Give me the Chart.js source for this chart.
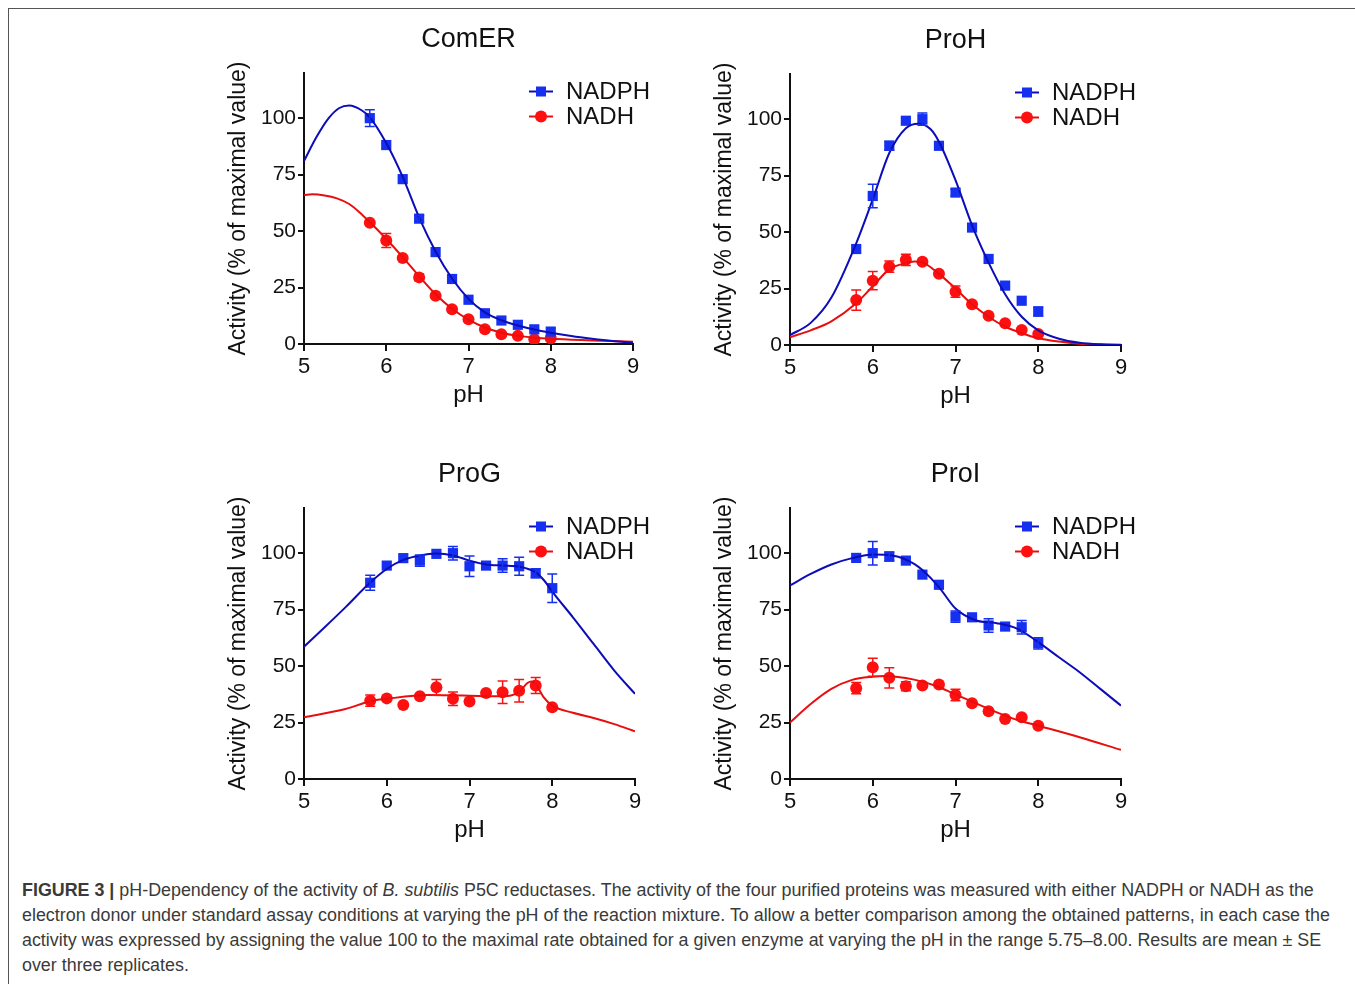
<!DOCTYPE html>
<html>
<head>
<meta charset="utf-8">
<script src="https://cdn.jsdelivr.net/npm/chart.js@4.4.1/dist/chart.umd.min.js"></script>
<style>
body { margin:0; background:#fff; width:1355px; height:984px; overflow:hidden; position:relative; font-family:"Liberation Sans", Arial, sans-serif; }
#frame { position:absolute; left:8px; top:8px; width:1360px; height:990px; border-left:1.5px solid #555; border-top:1.5px solid #555; }
canvas { position:absolute; }
#caption { position:absolute; left:22px; top:878px; font-size:17.5px; line-height:25px; color:#3a3a3a; transform-origin:0 0; }
#caption div { white-space:nowrap; }
</style>
</head>
<body>
<div id="frame"></div>
<canvas id="c1" width="459" height="401" style="left:214px;top:13px"></canvas>
<canvas id="c2" width="461" height="401" style="left:700px;top:14px"></canvas>
<canvas id="c3" width="461" height="401" style="left:214px;top:448px"></canvas>
<canvas id="c4" width="461" height="401" style="left:700px;top:448px"></canvas>
<div id="caption">
<div id="cap1"><b>FIGURE 3 |</b> pH-Dependency of the activity of <i>B. subtilis</i> P5C reductases. The activity of the four purified proteins was measured with either NADPH or NADH as the</div>
<div>electron donor under standard assay conditions at varying the pH of the reaction mixture. To allow a better comparison among the obtained patterns, in each case the</div>
<div>activity was expressed by assigning the value 100 to the maximal rate obtained for a given enzyme at varying the pH in the range 5.75–8.00. Results are mean ± SE</div>
<div>over three replicates.</div>
</div>
<script>
// pH values where activity was measured (same for all enzymes)
var phMeasured = [5.8, 6.0, 6.2, 6.4, 6.6, 6.8, 7.0, 7.2, 7.4, 7.6, 7.8, 8.0];

// ComER
var comerNadph   = [100, 88.1, 73, 55.5, 40.7, 28.8, 19.6, 13.6, 10.4, 8.5, 6.5, 5.5];
var comerNadphSE = [3.7, 0, 0, 1.5, 0, 0, 0, 0, 0, 0, 0, 0];
var comerNadh    = [53.7, 45.8, 38.1, 29.5, 21.4, 15.4, 11.0, 6.5, 4.3, 3.6, 2.1, 2.5];
var comerNadhSE  = [0, 3.1, 0, 1.5, 0, 0, 0, 0, 0, 0, 0, 0];
var comerNadphFitPh = [5.0, 5.15, 5.3, 5.43, 5.55, 5.7, 5.8, 6.0, 6.2, 6.4, 6.6, 6.8, 7.0, 7.2, 7.4, 7.6, 7.8, 8.0, 8.25, 8.5, 8.75, 9.0];
var comerNadphFit   = [81, 91.5, 100, 104.5, 105.6, 103.5, 100.4, 89, 74, 56, 41, 29, 20, 14, 10.5, 8.2, 6.4, 5, 3.5, 2.3, 1.3, 0.6];
var comerNadhFitPh  = [5.0, 5.1, 5.25, 5.4, 5.55, 5.7, 5.8, 6.0, 6.2, 6.4, 6.6, 6.8, 7.0, 7.2, 7.4, 7.6, 7.8, 8.0, 8.5, 9.0];
var comerNadhFit    = [65.9, 66.3, 65.8, 64.5, 62, 57.5, 54, 46.5, 38.5, 30, 22, 15.6, 10.8, 7.3, 5, 3.6, 2.8, 2.3, 1.6, 1.0];

// ProH
var prohNadph   = [42.5, 66, 88.2, 99.3, 100, 88.2, 67.5, 52, 38.1, 26.3, 19.6, 14.8];
var prohNadphSE = [0, 5.2, 2, 0, 2.7, 0, 1.5, 0, 0, 0, 0, 2];
var prohNadh    = [19.9, 28.5, 34.7, 37.7, 36.9, 31.5, 23.6, 18, 13, 9.6, 6.6, 4.9];
var prohNadhSE  = [4.5, 4, 2.5, 2.5, 0, 0, 2.5, 0, 0, 0, 0, 0];
var prohNadphFitPh = [5.0, 5.25, 5.5, 5.8, 6.0, 6.2, 6.4, 6.55, 6.7, 6.8, 7.0, 7.2, 7.4, 7.6, 7.8, 8.0, 8.25, 8.5, 8.75, 9.0];
var prohNadphFit   = [4.4, 9.8, 21, 45, 64.5, 85, 96, 98, 95.5, 90, 73, 53, 36.5, 22.5, 12.5, 6.5, 2.8, 1, 0.3, 0.1];
var prohNadhFitPh  = [5.0, 5.25, 5.5, 5.8, 6.0, 6.2, 6.4, 6.5, 6.6, 6.8, 7.0, 7.2, 7.4, 7.6, 7.8, 8.0, 8.25, 8.5, 8.75, 9.0];
var prohNadhFit    = [3.4, 6.5, 10.5, 18.5, 26, 33.5, 36.3, 37, 36.6, 31.5, 25, 18, 12.5, 8.1, 5.2, 3, 1.5, 0.6, 0.2, 0];

// ProG
var progNadph   = [86.9, 94.5, 97.8, 96.7, 99.7, 100, 94.2, 94.5, 94.5, 94.2, 91.1, 84.5];
var progNadphSE = [3.3, 0, 0, 2.5, 0, 3, 4.5, 0, 3, 4, 2, 6.3];
var progNadh    = [34.7, 35.7, 32.8, 36.6, 40.6, 35.5, 34.3, 38.1, 38.4, 39.1, 41.4, 31.8];
var progNadhSE  = [2.5, 0, 0, 0, 3.5, 3, 0, 0, 5, 5, 3.5, 0];
var progNadphFitPh = [5.0, 5.25, 5.5, 5.8, 6.0, 6.2, 6.4, 6.6, 6.8, 7.0, 7.2, 7.4, 7.6, 7.8, 7.9, 8.0, 8.25, 8.5, 8.75, 9.0];
var progNadphFit   = [58.6, 67.2, 76, 87, 93, 97, 99, 99.8, 99, 96.7, 95, 94.5, 94, 91.5, 88, 83, 71.6, 59.8, 48, 37.7];
var progNadhFitPh  = [5.0, 5.5, 5.8, 6.0, 6.5, 7.0, 7.3, 7.5, 7.6, 7.7, 7.75, 7.8, 7.9, 8.0, 8.25, 8.5, 8.75, 9.0];
var progNadhFit    = [27.3, 31, 34.4, 35.5, 37.2, 36.9, 36.6, 37, 38.5, 42.5, 43.2, 42, 36, 32.5, 29.3, 27, 24.3, 21.1];

// ProI
var proiNadph   = [97.9, 100, 98.5, 96.7, 90.5, 86, 71.9, 71.6, 68, 67.5, 67.2, 60.1];
var proiNadphSE = [0, 5.2, 2, 0, 0, 0, 2.5, 0, 3, 0, 3, 2.5];
var proiNadh    = [40.2, 49.5, 44.8, 41.1, 41.4, 41.8, 37.2, 33.5, 30, 26.6, 27.3, 23.6];
var proiNadhSE  = [2.5, 4, 4.5, 2, 0, 0, 2.5, 0, 0, 0, 0, 0];
var proiNadphFitPh = [5.0, 5.25, 5.5, 5.75, 6.0, 6.25, 6.5, 6.6, 6.8, 7.0, 7.25, 7.5, 7.75, 8.0, 8.25, 8.5, 8.75, 9.0];
var proiNadphFit   = [85.7, 90.8, 95, 97.8, 99.4, 98.9, 95.3, 92.5, 85, 75.5, 70.2, 69, 66.5, 60.6, 53.9, 47.3, 39.9, 32.5];
var proiNadhFitPh  = [5.0, 5.25, 5.5, 5.75, 6.0, 6.15, 6.5, 6.75, 7.0, 7.25, 7.5, 7.75, 8.0, 8.5, 9.0];
var proiNadhFit    = [25, 33.2, 39.9, 43.9, 45.3, 45.6, 44, 41.4, 37.4, 33.5, 29.5, 26.1, 23.6, 18.5, 12.9];

var BLUE_LINE = '#0c0cb8', BLUE_PT = '#1530f0';
var RED_LINE = '#e80e0e', RED_PT = '#ff1010';
var FONT = '"Liberation Sans", Arial, sans-serif';

Chart.defaults.font.family = FONT;
Chart.defaults.color = '#111';

function pairs(xs, ys) {
  return xs.map(function(x, i) { return { x: x, y: ys[i] }; });
}

// vertical SE bars with caps
var errorBars = {
  id: 'errorBars',
  afterDatasetsDraw: function(chart) {
    var ctx = chart.ctx, xs = chart.scales.x, ys = chart.scales.y;
    chart.data.datasets.forEach(function(ds) {
      if (!ds.errors) return;
      ctx.save();
      ctx.strokeStyle = ds.backgroundColor;
      ctx.lineWidth = 1.5;
      ds.data.forEach(function(p, i) {
        var e = ds.errors[i];
        if (!e) return;
        var px = xs.getPixelForValue(p.x);
        var top = ys.getPixelForValue(p.y + e), bot = ys.getPixelForValue(p.y - e);
        ctx.beginPath();
        ctx.moveTo(px, top); ctx.lineTo(px, bot);
        ctx.moveTo(px - 5, top); ctx.lineTo(px + 5, top);
        ctx.moveTo(px - 5, bot); ctx.lineTo(px + 5, bot);
        ctx.stroke();
      });
      ctx.restore();
    });
  }
};

// panel title centred over the plot area, legend inside the plot (top right)
var panelDecor = {
  id: 'panelDecor',
  afterDraw: function(chart, args, opts) {
    var ctx = chart.ctx, a = chart.chartArea;
    ctx.save();
    ctx.font = '27px ' + FONT;
    ctx.fillStyle = '#111';
    ctx.textAlign = 'center';
    ctx.textBaseline = 'middle';
    ctx.fillText(opts.title, (a.left + a.right) / 2, a.top - 33);
    ctx.restore();

    var rows = chart.data.datasets.filter(function(d) { return d.inLegend; });
    rows.forEach(function(ds, i) {
      var y = a.top + 18.5 + i * 25, x0 = a.left + 225;
      ctx.save();
      ctx.strokeStyle = ds.lineColor;
      ctx.lineWidth = 2;
      ctx.beginPath(); ctx.moveTo(x0, y); ctx.lineTo(x0 + 24, y); ctx.stroke();
      ctx.fillStyle = ds.backgroundColor;
      if (ds.pointStyle === 'rect') {
        ctx.fillRect(x0 + 7, y - 5, 10, 10);
      } else {
        ctx.beginPath(); ctx.arc(x0 + 12, y, 6, 0, 2 * Math.PI); ctx.fill();
      }
      ctx.font = '24px ' + FONT;
      ctx.fillStyle = '#111';
      ctx.textBaseline = 'middle';
      ctx.fillText(ds.label, x0 + 37, y + 1);
      ctx.restore();
    });
  }
};

function makePanel(id, title, nadph, nadphSE, nadphFitPh, nadphFit, nadh, nadhSE, nadhFitPh, nadhFit) {
  var canvas = document.getElementById(id);
  new Chart(canvas, {
    type: 'scatter',
    data: {
      datasets: [{
        label: 'NADPH fit', type: 'line', data: pairs(nadphFitPh, nadphFit),
        borderColor: BLUE_LINE, borderWidth: 2, pointRadius: 0, cubicInterpolationMode: 'monotone', fill: false
      }, {
        label: 'NADH fit', type: 'line', data: pairs(nadhFitPh, nadhFit),
        borderColor: RED_LINE, borderWidth: 2, pointRadius: 0, cubicInterpolationMode: 'monotone', fill: false
      }, {
        label: 'NADPH', data: pairs(phMeasured, nadph), errors: nadphSE, inLegend: true, lineColor: BLUE_LINE,
        backgroundColor: BLUE_PT, borderColor: BLUE_PT, borderWidth: 0, pointStyle: 'rect', pointRadius: 7.2
      }, {
        label: 'NADH', data: pairs(phMeasured, nadh), errors: nadhSE, inLegend: true, lineColor: RED_LINE,
        backgroundColor: RED_PT, borderColor: RED_PT, borderWidth: 0, pointStyle: 'circle', pointRadius: 6
      }]
    },
    options: {
      responsive: false,
      animation: false,
      layout: { padding: { left: 0, right: 40, top: 60, bottom: 0 } },
      plugins: {
        legend: { display: false },
        tooltip: { enabled: false },
        title: { display: false },
        panelDecor: { title: title }
      },
      scales: {
        x: {
          type: 'linear', min: 5, max: 9,
          afterFit: function(s) { s.height = 70; },
          border: { color: '#111', width: 2 },
          grid: { drawOnChartArea: false, color: '#111', lineWidth: 2, tickLength: 7 },
          ticks: { stepSize: 1, color: '#111', font: { size: 22 }, padding: 3 },
          title: { display: true, text: 'pH', color: '#111', font: { size: 24 }, padding: { top: 0, bottom: 4 } }
        },
        y: {
          min: 0, max: 120,
          afterFit: function(s) { s.width = 90; },
          border: { color: '#111', width: 2 },
          grid: { drawOnChartArea: false, color: '#111', lineWidth: 2, tickLength: 6 },
          ticks: { stepSize: 25, includeBounds: false, color: '#111', font: { size: 21 }, padding: 2 },
          title: { display: true, text: 'Activity (% of maximal value)', color: '#111', font: { size: 23 }, padding: { top: 11, bottom: 0 } }
        }
      }
    },
    plugins: [errorBars, panelDecor]
  });
}

makePanel('c1', 'ComER', comerNadph, comerNadphSE, comerNadphFitPh, comerNadphFit, comerNadh, comerNadhSE, comerNadhFitPh, comerNadhFit);
makePanel('c2', 'ProH', prohNadph, prohNadphSE, prohNadphFitPh, prohNadphFit, prohNadh, prohNadhSE, prohNadhFitPh, prohNadhFit);
makePanel('c3', 'ProG', progNadph, progNadphSE, progNadphFitPh, progNadphFit, progNadh, progNadhSE, progNadhFitPh, progNadhFit);
makePanel('c4', 'ProI', proiNadph, proiNadphSE, proiNadphFitPh, proiNadphFit, proiNadh, proiNadhSE, proiNadhFitPh, proiNadhFit);

// stretch caption so the first line spans the same width as in the figure
var cap = document.getElementById('caption');
var w1 = document.getElementById('cap1').scrollWidth;
cap.style.transform = 'scaleX(' + (1308 / w1) + ')';
</script>
</body>
</html>
